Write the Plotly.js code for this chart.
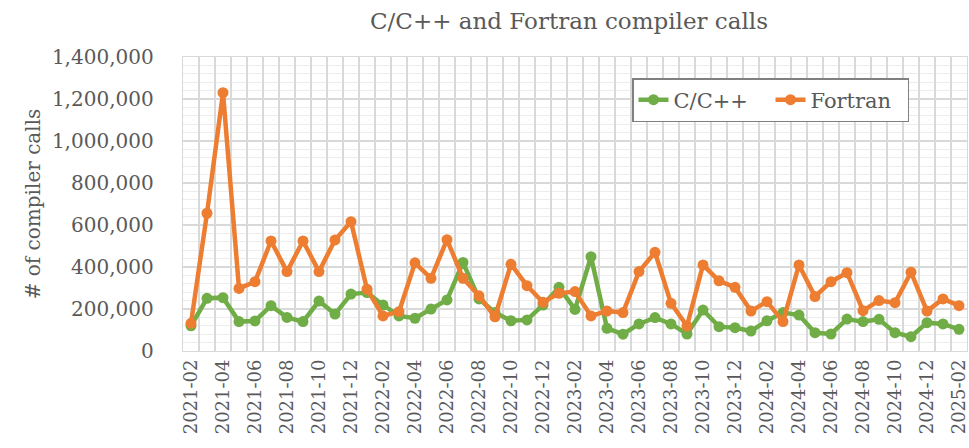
<!DOCTYPE html>
<html>
<head>
<meta charset="utf-8">
<script src="https://cdn.plot.ly/plotly-3.0.1.min.js"></script>
<style>html,body{margin:0;padding:0;background:#fff;}#chart{width:969px;height:448px;}</style>
</head>
<body>
<div id="chart"></div>
<script>
const months = ["2021-02","2021-03","2021-04","2021-05","2021-06","2021-07","2021-08","2021-09","2021-10","2021-11","2021-12",
"2022-01","2022-02","2022-03","2022-04","2022-05","2022-06","2022-07","2022-08","2022-09","2022-10","2022-11","2022-12",
"2023-01","2023-02","2023-03","2023-04","2023-05","2023-06","2023-07","2023-08","2023-09","2023-10","2023-11","2023-12",
"2024-01","2024-02","2024-03","2024-04","2024-05","2024-06","2024-07","2024-08","2024-09","2024-10","2024-11","2024-12",
"2025-01","2025-02"];
const cValues = [120000, 251000, 254000, 140000, 143000, 216000, 160000, 140000, 238000, 176000, 271000,
278000, 219000, 167000, 156000, 200000, 243000, 422000, 248000, 183000, 144000, 148000, 219000,
303000, 198000, 449000, 108000, 80000, 129000, 159000, 129000, 81000, 195000, 116000, 111000,
95000, 144000, 183000, 171000, 87000, 81000, 152000, 140000, 151000, 87000, 68000, 135000,
129000, 103000];
const fortranValues = [132000, 656000, 1230000, 298000, 330000, 524000, 378000, 524000, 378000, 529000, 616000,
294000, 167000, 187000, 420000, 346000, 530000, 346000, 263000, 163000, 413000, 311000, 232000,
275000, 283000, 167000, 190000, 183000, 378000, 470000, 227000, 119000, 410000, 334000, 303000,
190000, 235000, 140000, 410000, 259000, 330000, 373000, 192000, 240000, 230000, 375000, 190000,
248000, 216000];
const yTicks = [0, 200000, 400000, 600000, 800000, 1000000, 1200000, 1400000];

const font = "DejaVu Serif, Liberation Serif, serif";
const textColor = "#595959";

const traces = [
  {x: months, y: cValues, name: "C/C++", type: "scatter", mode: "lines+markers",
   line: {color: "#70AD47", width: 4.5}, marker: {color: "#70AD47", size: 11}},
  {x: months, y: fortranValues, name: "Fortran", type: "scatter", mode: "lines+markers",
   line: {color: "#ED7D31", width: 4.5}, marker: {color: "#ED7D31", size: 11}}
];

const layout = {
  width: 969, height: 448,
  margin: {l: 183, r: 2, t: 57, b: 97},
  paper_bgcolor: "#fff", plot_bgcolor: "#fff",
  font: {family: font, color: textColor, size: 20},
  title: {text: "C/C++ and Fortran compiler calls", font: {family: font, size: 23, color: textColor},
          x: 569/969, xanchor: "center", xref: "container", y: 1 - 21/448, yanchor: "middle", yref: "container"},
  showlegend: true,
  legend: {orientation: "h", x: (632-183)/784, xanchor: "left", y: (351-78)/294, yanchor: "top",
           bordercolor: "#808080", borderwidth: 1.5, bgcolor: "#fff",
           font: {family: font, size: 21, color: textColor}, entrywidth: 92, entrywidthmode: "pixels"},
  xaxis: {type: "category", categoryorder: "array", categoryarray: months,
          tickvals: months, ticktext: months.map((m, i) => i % 2 === 0 ? m : ""),
          tickson: "boundaries", tickangle: -90, tickfont: {family: font, size: 18, color: textColor},
          ticks: "outside", ticklen: 7, tickcolor: "rgba(0,0,0,0)",
          showgrid: true, gridcolor: "#D9D9D9", gridwidth: 1.3,
          showline: true, linecolor: "#D9D9D9", linewidth: 1.3, mirror: true,
          range: [-0.5, months.length - 0.5], zeroline: false, automargin: false},
  yaxis: {range: [0, 1400000], tickvals: yTicks, tickformat: ",d",
          tickfont: {family: font, size: 20, color: textColor},
          ticks: "outside", ticklen: 24, tickcolor: "rgba(0,0,0,0)",
          showgrid: true, gridcolor: "#D9D9D9", gridwidth: 1.3,
          minor: {dtick: 40000, showgrid: true, gridcolor: "#EDEDED", gridwidth: 1},
          showline: true, linecolor: "#D9D9D9", linewidth: 1.3, mirror: true,
          zeroline: false, automargin: false,
          title: {text: "# of compiler calls", font: {family: font, size: 20, color: textColor}, standoff: 6}}
};

Plotly.newPlot("chart", traces, layout, {displayModeBar: false, staticPlot: true});
</script>
</body>
</html>
